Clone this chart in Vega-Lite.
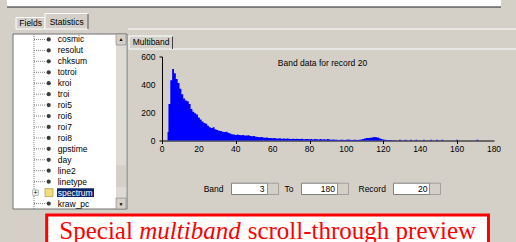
{
  "$schema": "https://vega.github.io/schema/vega-lite/v6.json",
  "background": "#d4d0c8",
  "padding": {"left": 6, "top": 0, "right": 0, "bottom": 0},
  "config": {
    "font": "Liberation Sans",
    "view": {"stroke": null},
    "text": {"font": "Liberation Sans", "fontSize": 8.5, "color": "black"}
  },
  "spacing": 3,
  "vconcat": [
    {
      "width": 494,
      "height": 7,
      "data": {"values": [{"frame": "top"}]},
      "layer": [
        {"mark": {"type": "rect", "fill": "#ffffff"},
         "encoding": {"x": {"datum": 0, "type": "quantitative", "scale": {"domain": [0, 494], "nice": false}, "axis": null}, "x2": {"datum": 494}}},
        {"mark": {"type": "rule", "color": "#202020", "strokeWidth": 1},
         "encoding": {"x": {"datum": 0, "type": "quantitative", "axis": null}, "x2": {"datum": 494}, "y": {"datum": 0, "type": "quantitative", "scale": {"domain": [0, 7], "nice": false}, "axis": null}}}
      ]
    },
    {
      "width": 510,
      "height": 18,
      "data": {"values": [{"t1": "Fields", "t2": "Statistics"}]},
      "layer": [
        {"mark": {"type": "rule", "color": "#ffffff", "strokeWidth": 1},
         "encoding": {"x": {"datum": 121, "type": "quantitative", "scale": {"domain": [0, 510], "nice": false}, "axis": null}, "x2": {"datum": 510},
                      "y": {"datum": 0, "type": "quantitative", "scale": {"domain": [0, 18], "nice": false}, "axis": null}}},
        {"mark": {"type": "rect", "fill": "#d4d0c8", "stroke": "#ffffff", "strokeWidth": 1},
         "encoding": {"x": {"datum": 9, "type": "quantitative", "axis": null}, "x2": {"datum": 38}, "y": {"datum": 0, "type": "quantitative", "axis": null}, "y2": {"datum": 11.5}}},
        {"mark": {"type": "rect", "fill": "#d4d0c8", "stroke": "#ffffff", "strokeWidth": 1},
         "encoding": {"x": {"datum": 38, "type": "quantitative", "axis": null}, "x2": {"datum": 81}, "y": {"datum": 0, "type": "quantitative", "axis": null}, "y2": {"datum": 15.5}}},
        {"mark": {"type": "rule", "color": "#404040", "strokeWidth": 1},
         "encoding": {"x": {"datum": 81, "type": "quantitative", "axis": null}, "y": {"datum": 0, "type": "quantitative", "axis": null}, "y2": {"datum": 15}}},
        {"mark": {"type": "text", "align": "left", "baseline": "middle"},
         "encoding": {"x": {"datum": 12.3, "type": "quantitative", "axis": null}, "y": {"datum": 5.8, "type": "quantitative", "axis": null}, "text": {"field": "t1"}}},
        {"mark": {"type": "text", "align": "left", "baseline": "middle"},
         "encoding": {"x": {"datum": 42.7, "type": "quantitative", "axis": null}, "y": {"datum": 6.8, "type": "quantitative", "axis": null}, "text": {"field": "t2"}}}
      ]
    },
    {
      "spacing": 0,
      "hconcat": [
        {
          "width": 121,
          "height": 175,
          "data": {"values": [
            {"name": "cosmic", "kind": "leaf"},
            {"name": "resolut", "kind": "leaf"},
            {"name": "chksum", "kind": "leaf"},
            {"name": "totroi", "kind": "leaf"},
            {"name": "kroi", "kind": "leaf"},
            {"name": "troi", "kind": "leaf"},
            {"name": "roi5", "kind": "leaf"},
            {"name": "roi6", "kind": "leaf"},
            {"name": "roi7", "kind": "leaf"},
            {"name": "roi8", "kind": "leaf"},
            {"name": "gpstime", "kind": "leaf"},
            {"name": "day", "kind": "leaf"},
            {"name": "line2", "kind": "leaf"},
            {"name": "linetype", "kind": "leaf"},
            {"name": "spectrum", "kind": "folder"},
            {"name": "kraw_pc", "kind": "leaf"}
          ]},
          "layer": [
            {
              "data": {"values": [{"box": "list"}]},
              "mark": {"type": "rect", "fill": "#ffffff", "stroke": "#707070", "strokeWidth": 1},
              "encoding": {
                "x": {"datum": 6, "type": "quantitative", "scale": {"domain": [0, 121], "nice": false}, "axis": null},
                "x2": {"datum": 120}
              }
            },
            {
              "data": {"values": [{"box": "track"}]},
              "mark": {"type": "rect", "fill": "#dedbd4"},
              "encoding": {
                "x": {"datum": 109, "type": "quantitative", "axis": null},
                "x2": {"datum": 119}
              }
            },
            {
              "transform": [{"filter": {"field": "name", "oneOf": ["cosmic", "kraw_pc"]}}],
              "mark": {"type": "rect", "fill": "#d4d0c8", "stroke": "#808080", "strokeWidth": 0.6},
              "encoding": {
                "x": {"datum": 109, "type": "quantitative", "axis": null},
                "x2": {"datum": 119},
                "y": {"field": "name", "type": "ordinal", "axis": null, "scale": {"domain": ["cosmic", "resolut", "chksum", "totroi", "kroi", "troi", "roi5", "roi6", "roi7", "roi8", "gpstime", "day", "line2", "linetype", "spectrum", "kraw_pc"], "paddingInner": 0, "paddingOuter": 0}}
              }
            },
            {
              "transform": [{"filter": {"field": "name", "oneOf": ["line2", "linetype"]}}],
              "mark": {"type": "rect", "fill": "#d4d0c8"},
              "encoding": {
                "x": {"datum": 109, "type": "quantitative", "axis": null},
                "x2": {"datum": 119},
                "y": {"field": "name", "type": "ordinal", "axis": null}
              }
            },
            {
              "transform": [{"filter": {"field": "name", "oneOf": ["cosmic", "kraw_pc"]}}],
              "mark": {"type": "text", "fontSize": 5, "align": "center", "baseline": "middle", "color": "black"},
              "encoding": {
                "x": {"datum": 114, "type": "quantitative", "axis": null},
                "y": {"field": "name", "type": "ordinal", "axis": null},
                "text": {"condition": {"test": "datum.name === 'cosmic'", "value": "▲"}, "value": "▼"}
              }
            },
            {
              "data": {"values": [{"line": "trunk"}]},
              "mark": {"type": "rule", "color": "#808080", "strokeDash": [1, 1]},
              "encoding": {
                "x": {"datum": 27, "type": "quantitative", "axis": null}
              }
            },
            {
              "transform": [{"filter": "datum.kind === 'leaf'"}],
              "mark": {"type": "rule", "color": "#808080", "strokeDash": [1, 1]},
              "encoding": {
                "x": {"datum": 27, "type": "quantitative", "axis": null},
                "x2": {"datum": 39},
                "y": {"field": "name", "type": "ordinal", "axis": null}
              }
            },
            {
              "transform": [{"filter": "datum.kind === 'leaf'"}],
              "mark": {"type": "circle", "color": "#3c3c3c", "size": 18, "opacity": 1},
              "encoding": {
                "x": {"datum": 41.7, "type": "quantitative", "axis": null},
                "y": {"field": "name", "type": "ordinal", "axis": null}
              }
            },
            {
              "transform": [{"filter": "datum.kind === 'folder'"}],
              "mark": {"type": "rect", "color": "#0a246a", "height": {"band": 0.8}},
              "encoding": {
                "x": {"datum": 50, "type": "quantitative", "axis": null},
                "x2": {"datum": 87},
                "y": {"field": "name", "type": "ordinal", "axis": null}
              }
            },
            {
              "transform": [{"filter": "datum.kind === 'folder'"}],
              "mark": {"type": "square", "filled": true, "color": "#f3dc7a", "stroke": "#8c7a2e", "strokeWidth": 0.5, "size": 64, "opacity": 1},
              "encoding": {
                "x": {"datum": 42, "type": "quantitative", "axis": null},
                "y": {"field": "name", "type": "ordinal", "axis": null}
              }
            },
            {
              "transform": [{"filter": "datum.kind === 'folder'"}],
              "mark": {"type": "square", "filled": true, "color": "white", "stroke": "#808080", "strokeWidth": 0.6, "size": 30, "opacity": 1},
              "encoding": {
                "x": {"datum": 28.5, "type": "quantitative", "axis": null},
                "y": {"field": "name", "type": "ordinal", "axis": null}
              }
            },
            {
              "transform": [{"filter": "datum.kind === 'folder'"}],
              "mark": {"type": "text", "text": "+", "fontSize": 7, "align": "center", "baseline": "middle"},
              "encoding": {
                "x": {"datum": 28.5, "type": "quantitative", "axis": null},
                "y": {"field": "name", "type": "ordinal", "axis": null}
              }
            },
            {
              "mark": {"type": "text", "align": "left", "baseline": "middle", "fontSize": 8.5},
              "encoding": {
                "x": {"datum": 50.7, "type": "quantitative", "axis": null},
                "y": {"field": "name", "type": "ordinal", "axis": null},
                "text": {"field": "name"},
                "color": {"condition": {"test": "datum.kind === 'folder'", "value": "white"}, "value": "black"}
              }
            }
          ]
        },
        {
          "spacing": 2.5,
          "vconcat": [
            {
              "width": 355,
              "height": 15,
              "data": {"values": [{"tab": "Multiband"}]},
              "layer": [
                {"mark": {"type": "rule", "color": "#ffffff", "strokeWidth": 1},
                 "encoding": {"x": {"datum": 10.5, "type": "quantitative", "scale": {"domain": [0, 355], "nice": false}, "axis": null}, "x2": {"datum": 355},
                              "y": {"datum": 0, "type": "quantitative", "scale": {"domain": [0, 15], "nice": false}, "axis": null}}},
                {"mark": {"type": "rect", "fill": "#d4d0c8", "stroke": "#ffffff", "strokeWidth": 1},
                 "encoding": {"x": {"datum": -33, "type": "quantitative", "axis": null}, "x2": {"datum": 10.5}, "y": {"datum": 0, "type": "quantitative", "axis": null}, "y2": {"datum": 13}}},
                {"mark": {"type": "rule", "color": "#404040", "strokeWidth": 1},
                 "encoding": {"x": {"datum": 10.5, "type": "quantitative", "axis": null}, "y": {"datum": 0, "type": "quantitative", "axis": null}, "y2": {"datum": 12.5}}},
                {"mark": {"type": "text", "align": "left", "baseline": "middle", "fontSize": 8.5},
                 "encoding": {"x": {"datum": -29.3, "type": "quantitative", "axis": null}, "y": {"datum": 7, "type": "quantitative", "axis": null}, "text": {"field": "tab"}}}
              ]
            },
            {
              "width": 332,
              "height": 84,
              "data": {"values": [
                {"band": 3, "value": 60}, {"band": 4, "value": 260}, {"band": 5, "value": 430}, {"band": 6, "value": 510},
                {"band": 7, "value": 480}, {"band": 8, "value": 440}, {"band": 9, "value": 410}, {"band": 10, "value": 370},
                {"band": 11, "value": 330}, {"band": 12, "value": 300}, {"band": 13, "value": 285}, {"band": 14, "value": 280},
                {"band": 15, "value": 260}, {"band": 16, "value": 225}, {"band": 17, "value": 205}, {"band": 18, "value": 195},
                {"band": 19, "value": 185}, {"band": 20, "value": 165}, {"band": 21, "value": 150}, {"band": 22, "value": 135},
                {"band": 23, "value": 125}, {"band": 24, "value": 120}, {"band": 25, "value": 105}, {"band": 26, "value": 95},
                {"band": 27, "value": 90}, {"band": 28, "value": 95}, {"band": 29, "value": 80}, {"band": 30, "value": 75},
                {"band": 31, "value": 70}, {"band": 32, "value": 68}, {"band": 33, "value": 62}, {"band": 34, "value": 60},
                {"band": 35, "value": 62}, {"band": 36, "value": 55}, {"band": 37, "value": 50}, {"band": 38, "value": 45},
                {"band": 39, "value": 42}, {"band": 40, "value": 40}, {"band": 41, "value": 42}, {"band": 42, "value": 40},
                {"band": 43, "value": 38}, {"band": 44, "value": 40}, {"band": 45, "value": 36}, {"band": 46, "value": 35},
                {"band": 47, "value": 38}, {"band": 48, "value": 33}, {"band": 49, "value": 31}, {"band": 50, "value": 33},
                {"band": 51, "value": 27}, {"band": 52, "value": 25}, {"band": 53, "value": 23}, {"band": 54, "value": 25},
                {"band": 55, "value": 21}, {"band": 56, "value": 20}, {"band": 57, "value": 22}, {"band": 58, "value": 18},
                {"band": 59, "value": 17}, {"band": 60, "value": 16}, {"band": 61, "value": 18}, {"band": 62, "value": 15},
                {"band": 63, "value": 14}, {"band": 64, "value": 16}, {"band": 65, "value": 13}, {"band": 66, "value": 14},
                {"band": 67, "value": 12}, {"band": 68, "value": 15}, {"band": 69, "value": 12}, {"band": 70, "value": 11},
                {"band": 71, "value": 13}, {"band": 72, "value": 10}, {"band": 73, "value": 12}, {"band": 74, "value": 11},
                {"band": 75, "value": 10}, {"band": 76, "value": 12}, {"band": 77, "value": 9}, {"band": 78, "value": 11},
                {"band": 79, "value": 10}, {"band": 80, "value": 9}, {"band": 81, "value": 11}, {"band": 82, "value": 8},
                {"band": 83, "value": 10}, {"band": 84, "value": 9}, {"band": 85, "value": 8}, {"band": 86, "value": 10},
                {"band": 87, "value": 7}, {"band": 88, "value": 9}, {"band": 89, "value": 8}, {"band": 90, "value": 10},
                {"band": 91, "value": 8}, {"band": 92, "value": 6}, {"band": 93, "value": 7}, {"band": 94, "value": 5},
                {"band": 95, "value": 6}, {"band": 96, "value": 4}, {"band": 97, "value": 5}, {"band": 98, "value": 6},
                {"band": 99, "value": 4}, {"band": 100, "value": 5}, {"band": 101, "value": 7}, {"band": 102, "value": 6},
                {"band": 103, "value": 4}, {"band": 104, "value": 5}, {"band": 105, "value": 6}, {"band": 106, "value": 4},
                {"band": 107, "value": 5}, {"band": 108, "value": 7}, {"band": 109, "value": 10}, {"band": 110, "value": 15},
                {"band": 111, "value": 18}, {"band": 112, "value": 17}, {"band": 113, "value": 20}, {"band": 114, "value": 22},
                {"band": 115, "value": 25}, {"band": 116, "value": 24}, {"band": 117, "value": 21}, {"band": 118, "value": 16},
                {"band": 119, "value": 10}, {"band": 120, "value": 7}, {"band": 121, "value": 5}, {"band": 122, "value": 4},
                {"band": 123, "value": 3}, {"band": 124, "value": 3}, {"band": 125, "value": 2}, {"band": 126, "value": 1},
                {"band": 127, "value": 2}, {"band": 128, "value": 0}, {"band": 129, "value": 5}, {"band": 130, "value": 1},
                {"band": 131, "value": 0}, {"band": 132, "value": 6}, {"band": 133, "value": 1}, {"band": 134, "value": 0},
                {"band": 135, "value": 5}, {"band": 136, "value": 0}, {"band": 137, "value": 1}, {"band": 138, "value": 6},
                {"band": 139, "value": 0}, {"band": 140, "value": 1}, {"band": 141, "value": 0}, {"band": 142, "value": 5},
                {"band": 143, "value": 0}, {"band": 144, "value": 1}, {"band": 145, "value": 0}, {"band": 146, "value": 6},
                {"band": 147, "value": 0}, {"band": 148, "value": 0}, {"band": 149, "value": 5}, {"band": 150, "value": 1},
                {"band": 151, "value": 0}, {"band": 152, "value": 5}, {"band": 153, "value": 0}, {"band": 154, "value": 0},
                {"band": 155, "value": 0}, {"band": 156, "value": 0}, {"band": 157, "value": 0}, {"band": 158, "value": 0},
                {"band": 159, "value": 0}, {"band": 160, "value": 6}, {"band": 161, "value": 0}, {"band": 162, "value": 0},
                {"band": 163, "value": 0}, {"band": 164, "value": 0}, {"band": 165, "value": 0}, {"band": 166, "value": 0},
                {"band": 167, "value": 0}, {"band": 168, "value": 0}, {"band": 169, "value": 0}, {"band": 170, "value": 0},
                {"band": 171, "value": 6}, {"band": 172, "value": 0}, {"band": 173, "value": 0}, {"band": 174, "value": 0},
                {"band": 175, "value": 0}, {"band": 176, "value": 0}, {"band": 177, "value": 0}, {"band": 178, "value": 0},
                {"band": 179, "value": 0}, {"band": 180, "value": 0}
              ]},
              "layer": [
                {
                  "mark": {"type": "area", "color": "#0000ff", "interpolate": "step", "opacity": 1},
                  "encoding": {
                    "x": {
                      "field": "band", "type": "quantitative",
                      "scale": {"domain": [0, 180], "nice": false},
                      "axis": {
                        "values": [0, 10, 20, 30, 40, 50, 60, 70, 80, 90, 100, 110, 120, 130, 140, 150, 160, 170, 180],
                        "labels": false, "title": null, "grid": false, "tickSize": 3,
                        "domainColor": "black", "tickColor": "black"
                      }
                    },
                    "y": {
                      "field": "value", "type": "quantitative",
                      "scale": {"domain": [0, 600], "nice": false},
                      "axis": {
                        "values": [0, 100, 200, 300, 400, 500, 600],
                        "labels": false, "title": null, "grid": false, "tickSize": 3,
                        "domainColor": "black", "tickColor": "black"
                      }
                    }
                  }
                },
                {
                  "data": {"values": [{"v": 0}, {"v": 20}, {"v": 40}, {"v": 60}, {"v": 80}, {"v": 100}, {"v": 120}, {"v": 140}, {"v": 160}, {"v": 180}]},
                  "mark": {"type": "text", "align": "center", "baseline": "top", "dy": 4.5, "fontSize": 8.5},
                  "encoding": {
                    "x": {"field": "v", "type": "quantitative"},
                    "y": {"datum": 0, "type": "quantitative"},
                    "text": {"field": "v", "type": "quantitative"}
                  }
                },
                {
                  "data": {"values": [{"v": 0}, {"v": 200}, {"v": 400}, {"v": 600}]},
                  "mark": {"type": "text", "align": "right", "baseline": "middle", "dx": -6.5, "fontSize": 8.5},
                  "encoding": {
                    "y": {"field": "v", "type": "quantitative"},
                    "x": {"datum": 0, "type": "quantitative"},
                    "text": {"field": "v", "type": "quantitative"}
                  }
                },
                {
                  "data": {"values": [{"label": "Band data for record 20"}]},
                  "mark": {"type": "text", "align": "center", "baseline": "middle", "fontSize": 8.5},
                  "encoding": {
                    "x": {"datum": 87, "type": "quantitative"},
                    "y": {"datum": 557, "type": "quantitative"},
                    "text": {"field": "label"}
                  }
                }
              ]
            },
            {
              "width": 350,
              "height": 38.5,
              "data": {"values": [{"band": "3", "to": "180", "record": "20"}]},
              "layer": [
                {"mark": {"type": "text", "text": "Band", "align": "right", "baseline": "middle"},
                 "encoding": {"x": {"datum": 61.5, "type": "quantitative", "scale": {"domain": [0, 350], "nice": false}, "axis": null},
                              "y": {"datum": 5.8, "type": "quantitative", "scale": {"domain": [0, 38.5], "nice": false}, "axis": null}}},
                {"mark": {"type": "rect", "fill": "white", "stroke": "#808080", "strokeWidth": 1},
                 "encoding": {"x": {"datum": 69.5, "type": "quantitative", "axis": null}, "x2": {"datum": 105.5}, "y": {"datum": 0, "type": "quantitative", "axis": null}, "y2": {"datum": 11.3}}},
                {"mark": {"type": "rect", "fill": "#d4d0c8", "stroke": "#808080", "strokeWidth": 0.6},
                 "encoding": {"x": {"datum": 105.5, "type": "quantitative", "axis": null}, "x2": {"datum": 116.5}, "y": {"datum": 0, "type": "quantitative", "axis": null}, "y2": {"datum": 11.3}}},
                {"mark": {"type": "text", "align": "right", "baseline": "middle"},
                 "encoding": {"x": {"datum": 102.5, "type": "quantitative", "axis": null}, "y": {"datum": 5.8, "type": "quantitative", "axis": null}, "text": {"field": "band"}}},
                {"mark": {"type": "text", "text": "To", "align": "left", "baseline": "middle"},
                 "encoding": {"x": {"datum": 122.5, "type": "quantitative", "axis": null}, "y": {"datum": 5.8, "type": "quantitative", "axis": null}}},
                {"mark": {"type": "rect", "fill": "white", "stroke": "#808080", "strokeWidth": 1},
                 "encoding": {"x": {"datum": 139.5, "type": "quantitative", "axis": null}, "x2": {"datum": 175.5}, "y": {"datum": 0, "type": "quantitative", "axis": null}, "y2": {"datum": 11.3}}},
                {"mark": {"type": "rect", "fill": "#d4d0c8", "stroke": "#808080", "strokeWidth": 0.6},
                 "encoding": {"x": {"datum": 175.5, "type": "quantitative", "axis": null}, "x2": {"datum": 186.5}, "y": {"datum": 0, "type": "quantitative", "axis": null}, "y2": {"datum": 11.3}}},
                {"mark": {"type": "text", "align": "right", "baseline": "middle"},
                 "encoding": {"x": {"datum": 173, "type": "quantitative", "axis": null}, "y": {"datum": 5.8, "type": "quantitative", "axis": null}, "text": {"field": "to"}}},
                {"mark": {"type": "text", "text": "Record", "align": "left", "baseline": "middle"},
                 "encoding": {"x": {"datum": 196.5, "type": "quantitative", "axis": null}, "y": {"datum": 5.8, "type": "quantitative", "axis": null}}},
                {"mark": {"type": "rect", "fill": "white", "stroke": "#808080", "strokeWidth": 1},
                 "encoding": {"x": {"datum": 231.5, "type": "quantitative", "axis": null}, "x2": {"datum": 267.5}, "y": {"datum": 0, "type": "quantitative", "axis": null}, "y2": {"datum": 11.3}}},
                {"mark": {"type": "rect", "fill": "#d4d0c8", "stroke": "#808080", "strokeWidth": 0.6},
                 "encoding": {"x": {"datum": 267.5, "type": "quantitative", "axis": null}, "x2": {"datum": 278.5}, "y": {"datum": 0, "type": "quantitative", "axis": null}, "y2": {"datum": 11.3}}},
                {"mark": {"type": "text", "align": "right", "baseline": "middle"},
                 "encoding": {"x": {"datum": 265.5, "type": "quantitative", "axis": null}, "y": {"datum": 5.8, "type": "quantitative", "axis": null}, "text": {"field": "record"}}}
              ]
            }
          ]
        }
      ]
    },
    {
      "width": 496,
      "height": 45,
      "data": {"values": [{"a": "Special", "b": "multiband", "c": "scroll-through preview"}]},
      "layer": [
        {"mark": {"type": "rect", "fill": "white", "stroke": "#ff0000", "strokeWidth": 3},
         "encoding": {"x": {"datum": 39.7, "type": "quantitative", "scale": {"domain": [0, 496], "nice": false}, "axis": null}, "x2": {"datum": 481.5},
                      "y": {"datum": 0, "type": "quantitative", "scale": {"domain": [0, 45], "nice": false}, "axis": null}, "y2": {"datum": 43}}},
        {"mark": {"type": "text", "align": "left", "baseline": "alphabetic", "font": "Liberation Serif", "fontSize": 25, "color": "#ff0000"},
         "encoding": {"x": {"datum": 52.3, "type": "quantitative", "axis": null}, "y": {"datum": 19, "type": "quantitative", "axis": null}, "text": {"field": "a"}}},
        {"mark": {"type": "text", "align": "left", "baseline": "alphabetic", "font": "Liberation Serif", "fontSize": 25, "fontStyle": "italic", "color": "#ff0000"},
         "encoding": {"x": {"datum": 132.3, "type": "quantitative", "axis": null}, "y": {"datum": 19, "type": "quantitative", "axis": null}, "text": {"field": "b"}}},
        {"mark": {"type": "text", "align": "left", "baseline": "alphabetic", "font": "Liberation Serif", "fontSize": 25, "color": "#ff0000"},
         "encoding": {"x": {"datum": 240.7, "type": "quantitative", "axis": null}, "y": {"datum": 19, "type": "quantitative", "axis": null}, "text": {"field": "c"}}}
      ]
    }
  ]
}
